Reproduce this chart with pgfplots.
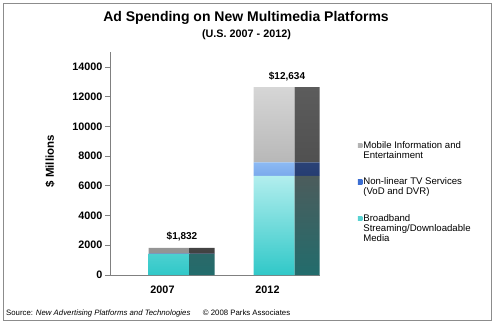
\documentclass[border=0pt]{standalone}
\usepackage{pgfplots}
\pgfplotsset{compat=1.18}
\usepackage{fontspec}
\setmainfont{Liberation Sans}
\definecolor{framegray}{HTML}{8C8C8C}
\definecolor{axgray}{HTML}{808080}
\definecolor{cyanB}{HTML}{30C8C8}
\definecolor{cyanT}{HTML}{B2EEEE}
\definecolor{blueB}{HTML}{1444BC}
\definecolor{blueT}{HTML}{8CBAF4}
\definecolor{grayB}{HTML}{939393}
\definecolor{grayT}{HTML}{D6D6D6}
\definecolor{scyanB}{HTML}{226C6C}
\definecolor{scyanT}{HTML}{4C5C5C}
\definecolor{sblueB}{HTML}{0E1E5A}
\definecolor{sblueT}{HTML}{2A4276}
\definecolor{sgrayB}{HTML}{424242}
\definecolor{sgrayT}{HTML}{5C5C5C}
\definecolor{lgcyan}{HTML}{58D2D2}
\definecolor{lgblue}{HTML}{3C6ED2}
\definecolor{lggray}{HTML}{B4B4B4}
\begin{document}
\begin{tikzpicture}[x=1pt,y=1pt]
\path[use as bounding box] (0,0) rectangle (495,-323);
\draw[framegray, line width=1pt] (3.5,-4) rectangle (491.5,-320);
\node[anchor=base, font=\fontsize{14}{16}\selectfont\bfseries, inner sep=0pt] at (246,-22) {Ad Spending on New Multimedia Platforms};
\node[anchor=base, font=\fontsize{10.8}{12}\selectfont\bfseries, inner sep=0pt] at (246.5,-37.5) {(U.S. 2007 - 2012)};
\node[anchor=base west, font=\fontsize{7.8}{9}\selectfont, inner sep=0pt] at (6,-315) {Source: \textit{New Advertising Platforms and Technologies}\hspace{1.6em}\textcopyright{} 2008 Parks Associates};

\begin{axis}[
  at={(110pt,-275pt)}, anchor=south west,
  scale only axis, width=210pt, height=223pt,
  xmin=-0.5, xmax=1.5, ymin=0, ymax=15000,
  ybar stacked, bar width=41pt, bar shift=6.5pt,
  axis lines*=left,
  axis line style={axgray, line width=0.8pt},
  xtick={0,1}, xticklabels={2007,2012},
  major x tick style={draw=none},
  extra x ticks={-0.5,0.5,1.5}, extra x tick labels={},
  extra x tick style={tick style={axgray, line width=0.7pt, draw=axgray}, major tick length=4pt, tick align=outside},
  ytick={0,2000,4000,6000,8000,10000,12000,14000},
  scaled y ticks=false,
  y tick label style={/pgf/number format/1000 sep={}},
  ytick style={axgray, line width=0.7pt},
  tick align=outside, major tick length=5pt,
  /pgf/number format/assume math mode=true,
  tick label style={font=\fontsize{10.8}{12}\selectfont\bfseries, text=black},
  yticklabel style={xshift=1pt},
  xticklabel style={yshift=-2pt},
  ylabel={\$ Millions},
  ylabel style={font=\fontsize{11.5}{13}\selectfont\bfseries, at={(axis description cs:-0.286,0.51)}, anchor=center},
  reverse legend,
  legend cell align=left,
  legend style={at={(axis description cs:1.165,0.613)}, anchor=north west, draw=none, fill=none,
     font=\fontsize{9.6}{10}\selectfont, row sep=16pt, nodes={align=left, inner sep=1pt}},
]
\addplot[draw=none, bottom color=cyanB, top color=cyanT,
  legend image code/.code={\path[draw=none, top color=lgcyan, bottom color=lgcyan] (0pt,8pt) rectangle (4.5pt,12.5pt);}]
  coordinates {(0,1420) (1,6670)};
\addlegendentry{Broadband\\Streaming/Downloadable\\Media}
\addplot[draw=none, bottom color=blueB, top color=blueT,
  legend image code/.code={\path[draw=none, top color=lgblue, bottom color=lgblue] (0pt,3pt) rectangle (4.5pt,7.5pt);}]
  coordinates {(0,20) (1,900)};
\addlegendentry{Non-linear TV Services\\(VoD and DVR)}
\addplot[draw=none, bottom color=grayB, top color=grayT,
  legend image code/.code={\path[draw=none, top color=lggray, bottom color=lggray] (0pt,3pt) rectangle (4.5pt,7.5pt);}]
  coordinates {(0,392) (1,5064)};
\addlegendentry{Mobile Information and\\Entertainment}
\end{axis}

\begin{axis}[
  at={(110pt,-275pt)}, anchor=south west,
  scale only axis, width=210pt, height=223pt,
  xmin=-0.5, xmax=1.5, ymin=0, ymax=15000,
  hide axis,
  ybar stacked, bar width=25pt, bar shift=39.5pt,
]
\addplot[draw=none, bottom color=scyanB, top color=scyanT] coordinates {(0,1420) (1,6670)};
\addplot[draw=none, bottom color=sblueB, top color=sblueT] coordinates {(0,20) (1,900)};
\addplot[draw=none, bottom color=sgrayB, top color=sgrayT] coordinates {(0,392) (1,5064)};
\end{axis}

\begin{axis}[
  at={(110pt,-275pt)}, anchor=south west,
  scale only axis, width=210pt, height=223pt,
  xmin=-0.5, xmax=1.5, ymin=0, ymax=15000,
  hide axis,
  ybar, bar width=66pt, bar shift=19.5pt,
  point meta=explicit symbolic,
  nodes near coords={\pgfplotspointmeta},
  nodes near coords style={font=\fontsize{10}{12}\selectfont\bfseries, text=black, anchor=south, yshift=3pt},
]
\addplot[draw=none, fill=none] coordinates {(0,1832)[\$1,832] (1,12634)[\$12,634]};
\end{axis}
\end{tikzpicture}
\end{document}
